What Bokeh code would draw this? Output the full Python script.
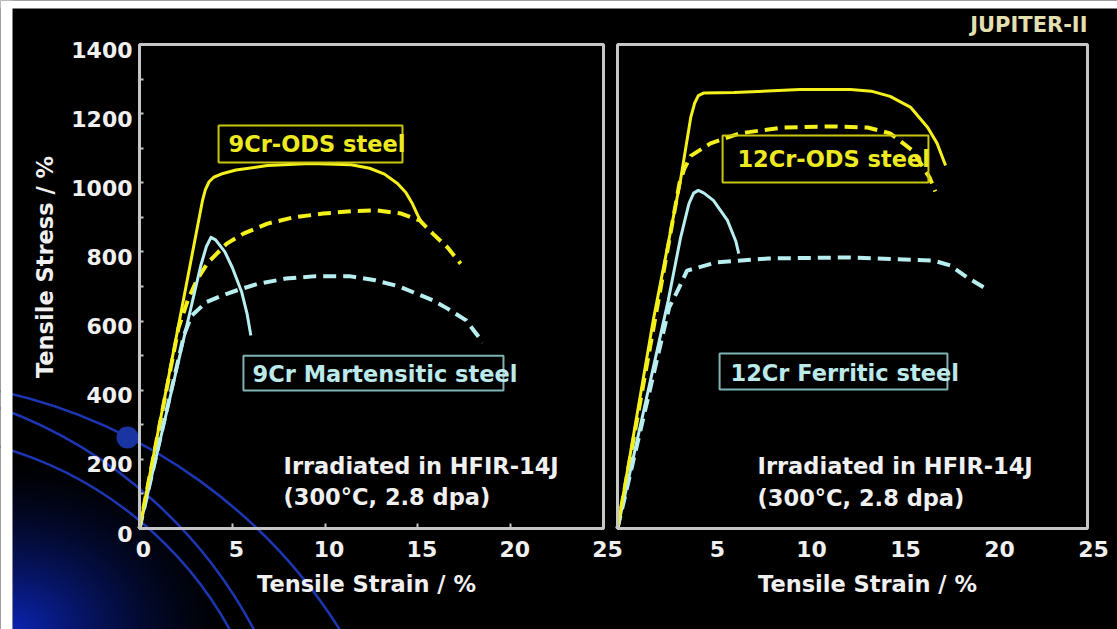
import numpy as np
from bokeh.plotting import figure
from bokeh.models import Range1d, LinearAxis, FixedTicker, BoxAnnotation, Label, Grid
from bokeh.embed import file_html
from bokeh.resources import INLINE

# ---------------------------------------------------------------------------
# Tensile curves: strain (%) and stress read as (strain, stress) pairs
# solid = irradiated in HFIR-14J, dashed = unirradiated reference
# ---------------------------------------------------------------------------
ods9_irr_strain = [0, 3.4, 3.55, 3.75, 4.0, 4.5, 5.2, 6.9, 9.2, 11.4, 12.4, 13.2, 13.9, 14.35, 14.7, 15.0, 15.25]
ods9_irr_stress = [0, 950, 980, 1003, 1016, 1027, 1037, 1050, 1056, 1052, 1042, 1025, 998, 972, 940, 905, 880]

ods9_ref_strain = [0, 2.1, 2.6, 3.1, 3.7, 4.7, 5.6, 6.9, 8.3, 9.9, 11.4, 12.8, 14.1, 15.1, 15.8, 16.6, 17.3]
ods9_ref_stress = [0, 580, 660, 720, 770, 824, 853, 882, 900, 911, 918, 920, 911, 891, 853, 813, 766]

mart9_irr_strain = [0, 3.3, 3.6, 3.85, 4.1, 4.6, 5.0, 5.5, 5.8, 6.0]
mart9_irr_stress = [0, 760, 815, 842, 835, 800, 755, 685, 620, 558]

mart9_ref_strain = [0, 2.4, 2.8, 3.6, 4.5, 5.3, 6.4, 7.9, 9.5, 11.3, 12.7, 14.0, 14.9, 15.8, 16.6, 17.6, 18.5]
mart9_ref_stress = [0, 560, 615, 655, 675, 690, 708, 723, 730, 730, 718, 700, 680, 660, 636, 602, 538]

ods12_irr_strain = [0, 1.9, 3.35, 3.9, 4.1, 4.3, 4.6, 6.2, 9.7, 12.4, 13.5, 14.5, 15.6, 16.5, 17.0, 17.45]
ods12_irr_stress = [0, 602, 1007, 1190, 1230, 1252, 1260, 1261, 1270, 1270, 1265, 1250, 1218, 1160, 1114, 1050]

ods12_ref_strain = [0, 3.3, 3.55, 3.9, 4.95, 6.5, 8.8, 11.5, 13.3, 14.5, 15.7, 16.6, 16.9]
ods12_ref_stress = [0, 1000, 1040, 1078, 1114, 1143, 1160, 1163, 1160, 1143, 1093, 1015, 975]

ferr12_irr_strain = [0, 2.7, 3.35, 3.8, 4.05, 4.3, 4.6, 5.1, 5.85, 6.3, 6.45]
ferr12_irr_stress = [0, 660, 840, 940, 970, 978, 970, 949, 891, 830, 795]

ferr12_ref_strain = [0, 2.75, 3.2, 3.7, 5.3, 8.0, 12.4, 16.8, 17.7, 18.6, 19.5]
ferr12_ref_stress = [0, 640, 688, 746, 770, 781, 784, 775, 761, 726, 697]

strain_ticks_left = [0, 5, 10, 15, 20, 25]
strain_ticks_right = [5, 10, 15, 20, 25]
stress_ticks = [0, 200, 400, 600, 800, 1000, 1200, 1400]
stress_minor = [100, 300, 500, 700, 900, 1100, 1300]

# ---------------------------------------------------------------------------
# Page geometry (pixels from the top-left corner of the page)
# ---------------------------------------------------------------------------
W, H = 1117, 629
STRAIN_MAX, STRESS_MAX = 25, 1400
L_X0, L_X1 = 139, 603          # left panel box
R_X0, R_X1 = 617, 1087         # right panel box
Y_TOP, Y_BOT = 44, 528         # both panels

kx_l = (L_X1 - L_X0) / STRAIN_MAX
kx_r = (R_X1 - R_X0) / STRAIN_MAX
ky = (Y_BOT - Y_TOP) / STRESS_MAX

x_start_l, x_end_l = -L_X0 / kx_l, STRAIN_MAX + (W - L_X1) / kx_l
x_start_r, x_end_r = -R_X0 / kx_r, STRAIN_MAX + (W - R_X1) / kx_r
y_start, y_end = -(H - Y_BOT) / ky, STRESS_MAX + Y_TOP / ky

# tick labels sit a few pixels off the tick marks
LBL_DX_L, LBL_DX_R, LBL_DY = 4, 6, 5

GRAY = "#c6c6c6"
TEXT = "#f0f0f0"
YELLOW = "#f4f01c"
CYAN = "#b8eef0"
FONT = "DejaVu Sans"

p = figure(width=W, height=H, title=None, output_backend="svg", toolbar_location=None,
           tools="", x_range=Range1d(x_start_l, x_end_l), y_range=Range1d(y_start, y_end),
           x_axis_location=None, y_axis_location=None, min_border=0)
p.background_fill_color = "black"
p.border_fill_color = "black"
p.outline_line_color = None
for r in p.center:
    if isinstance(r, Grid):
        r.visible = False

p.extra_x_ranges = {
    "right": Range1d(x_start_r, x_end_r),
    "lbl_l": Range1d(x_start_l - LBL_DX_L / kx_l, x_end_l - LBL_DX_L / kx_l),
    "lbl_r": Range1d(x_start_r - LBL_DX_R / kx_r, x_end_r - LBL_DX_R / kx_r),
    "px": Range1d(0, W),
}
p.extra_y_ranges = {
    "lbl_y": Range1d(y_start + LBL_DY / ky, y_end + LBL_DY / ky),
    "px": Range1d(0, H),
}

# ---------------------------------------------------------------------------
# Slide backdrop: blue glow and swoosh in the lower-left corner
# ---------------------------------------------------------------------------
gw, gh = 360, 250
gx = (np.arange(gw) + 0.5)[None, :]
gy = (np.arange(gh) + 0.5)[:, None]
glow = np.clip(1.0 - np.sqrt((gx / 225.0) ** 2 + (gy / 175.0) ** 2), 0, 1) ** 1.5
img = np.zeros((gh, gw), dtype=np.uint32)
view = img.view(dtype=np.uint8).reshape((gh, gw, 4))
view[:, :, 0] = 12
view[:, :, 1] = 36
view[:, :, 2] = 178
view[:, :, 3] = (glow * 255).astype(np.uint8)
p.image_rgba(image=[img], x=12, y=0, dw=gw, dh=gh, x_range_name="px", y_range_name="px")

SWOOSH = "#1d36b4"
for cx, cy, r, a0, a1 in [(-117, -289, 540, 28, 80), (-162, -220, 470, 24, 72), (-105, -185, 382, 25, 76)]:
    p.arc(x=cx, y=cy, radius=r, start_angle=np.radians(a0), end_angle=np.radians(a1),
          line_color=SWOOSH, line_width=2.5, x_range_name="px", y_range_name="px")
p.circle(x=127, y=H - 437, radius=11, fill_color="#1a34a2", line_color=None,
         x_range_name="px", y_range_name="px")

# white page margin on the top and left edges
p.quad(left=[0, 0], right=[12, W], bottom=[0, H - 8], top=[H, H], fill_color="white",
       line_color=None, x_range_name="px", y_range_name="px")

# ---------------------------------------------------------------------------
# Curves
# ---------------------------------------------------------------------------
def curve(xs, ys, color, dashed, rng="default"):
    p.line(xs, ys, line_color=color, line_width=4 if dashed else 3,
           line_dash="13 7" if dashed else "solid", line_join="round", x_range_name=rng)

curve(ods9_ref_strain, ods9_ref_stress, YELLOW, True)
curve(mart9_ref_strain, mart9_ref_stress, CYAN, True)
curve(mart9_irr_strain, mart9_irr_stress, CYAN, False)
curve(ods9_irr_strain, ods9_irr_stress, YELLOW, False)

curve(ods12_ref_strain, ods12_ref_stress, YELLOW, True, "right")
curve(ferr12_ref_strain, ferr12_ref_stress, CYAN, True, "right")
curve(ferr12_irr_strain, ferr12_irr_stress, CYAN, False, "right")
curve(ods12_irr_strain, ods12_irr_stress, YELLOW, False, "right")

# ---------------------------------------------------------------------------
# Panel boxes, ticks and labels
# ---------------------------------------------------------------------------
for rng in ("default", "right"):
    p.add_layout(BoxAnnotation(left=0, right=STRAIN_MAX, bottom=0, top=STRESS_MAX,
                               fill_color=None, line_color=GRAY, line_alpha=1.0,
                               line_width=3, x_range_name=rng))

def style_labels(ax):
    ax.axis_line_color = None
    ax.major_tick_line_color = None
    ax.minor_tick_line_color = None
    ax.major_tick_in = 0
    ax.major_tick_out = 0
    ax.major_label_text_color = TEXT
    ax.major_label_text_font = FONT
    ax.major_label_text_font_style = "bold"
    ax.major_label_text_font_size = "22px"
    ax.axis_label_text_color = TEXT
    ax.axis_label_text_font = FONT
    ax.axis_label_text_font_style = "bold"
    ax.axis_label_text_font_size = "22.5px"

# stress tick marks (inside) on the left panel
y_ticks = LinearAxis(fixed_location=0, bounds=(0, STRESS_MAX),
                     ticker=FixedTicker(ticks=stress_ticks, minor_ticks=stress_minor))
y_ticks.axis_line_color = None
y_ticks.major_tick_in = 4
y_ticks.major_tick_out = 0
y_ticks.minor_tick_in = 4
y_ticks.minor_tick_out = 0
y_ticks.major_tick_line_color = GRAY
y_ticks.minor_tick_line_color = GRAY
y_ticks.major_tick_line_width = 2
y_ticks.minor_tick_line_width = 2
y_ticks.major_label_text_color = None
p.add_layout(y_ticks, "left")

# stress tick labels and axis title
y_lbl = LinearAxis(y_range_name="lbl_y", fixed_location=0, bounds=(0, 1591),
                   ticker=FixedTicker(ticks=stress_ticks), axis_label="Tensile Stress / %")
style_labels(y_lbl)
y_lbl.major_label_standoff = 7
y_lbl.axis_label_standoff = 10
p.add_layout(y_lbl, "left")

# strain tick marks (inside) on the left panel
x_ticks = LinearAxis(fixed_location=0, bounds=(0, STRAIN_MAX),
                     ticker=FixedTicker(ticks=[5, 10, 15, 20]))
x_ticks.axis_line_color = None
x_ticks.major_tick_in = 5
x_ticks.major_tick_out = 0
x_ticks.major_tick_line_color = GRAY
x_ticks.major_tick_line_width = 2
x_ticks.major_label_text_color = None
p.add_layout(x_ticks, "below")

# strain tick labels and titles for both panels
for rng, ticks, bounds in (("lbl_l", strain_ticks_left, (-0.97, STRAIN_MAX)),
                           ("lbl_r", strain_ticks_right, (0.96, STRAIN_MAX))):
    ax = LinearAxis(x_range_name=rng, fixed_location=0, bounds=bounds,
                    ticker=FixedTicker(ticks=ticks), axis_label="Tensile Strain / %")
    style_labels(ax)
    ax.major_label_standoff = 12
    ax.axis_label_standoff = 11
    p.add_layout(ax, "below")

# ---------------------------------------------------------------------------
# Material tags and irradiation notes
# ---------------------------------------------------------------------------
def tag(text, box, pos, line_color, text_color, rng="default"):
    l, r, b, t = box
    p.add_layout(BoxAnnotation(left=l, right=r, bottom=b, top=t, fill_color=None,
                               line_color=line_color, line_alpha=1.0, line_width=2,
                               x_range_name=rng))
    p.add_layout(Label(x=pos[0], y=pos[1], text=text, text_color=text_color,
                       text_font=FONT, text_font_style="bold", text_font_size="22.5px",
                       text_baseline="middle", x_range_name=rng))

def note(x, y, text, rng="default"):
    p.add_layout(Label(x=x, y=y, text=text, text_color=TEXT, text_font=FONT,
                       text_font_style="bold", text_font_size="22.5px",
                       text_baseline="middle", x_range_name=rng))

tag("9Cr-ODS steel", (4.26, 14.17, 1059, 1166), (4.80, 1111), "#c9c512", "#eeea22")
tag("9Cr Martensitic steel", (5.60, 19.61, 399, 500), (6.09, 448), "#7db3b3", "#bce9e9")
note(7.76, 182, "Irradiated in HFIR-14J")
note(7.76, 90, "(300°C, 2.8 dpa)")

tag("12Cr-ODS steel", (5.59, 16.54, 1001, 1137), (6.38, 1070), "#c9c512", "#eeea22", "right")
tag("12Cr Ferritic steel", (5.43, 17.55, 402, 506), (6.01, 451), "#7db3b3", "#bce9e9", "right")
note(7.45, 182, "Irradiated in HFIR-14J", "right")
note(7.45, 87, "(300°C, 2.8 dpa)", "right")

p.add_layout(Label(x=R_X1, y=H - 24, text="JUPITER-II", text_color="#e2dfb0", text_font=FONT,
                   text_font_style="bold", text_font_size="21px", text_align="right",
                   text_baseline="middle", x_range_name="px", y_range_name="px"))

open("out.html", "w").write(file_html(p, INLINE))
